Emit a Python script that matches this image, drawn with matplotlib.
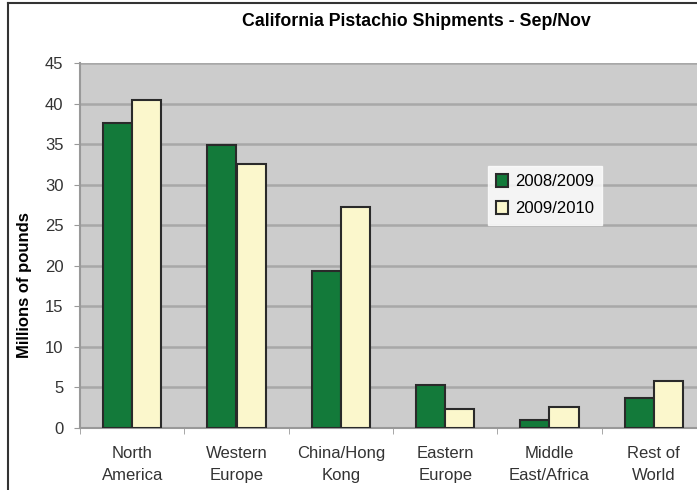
import numpy as np
import matplotlib
matplotlib.use("Agg")
import matplotlib.pyplot as plt
from matplotlib.lines import Line2D

plt.rcParams['font.family'] = ['Liberation Sans', 'DejaVu Sans']

regions = ['North\nAmerica', 'Western\nEurope', 'China/Hong\nKong', 'Eastern\nEurope',
           'Middle\nEast/Africa', 'Rest of\nWorld']
ship_0809 = [37.6, 34.9, 19.3, 5.3, 1.0, 3.7]
ship_0910 = [40.4, 32.6, 27.3, 2.3, 2.6, 5.8]
yticks = [0, 5, 10, 15, 20, 25, 30, 35, 40, 45]

fig = plt.figure(figsize=(6.97, 4.90), dpi=100)
ax = fig.add_axes([80/697, 62/490, 626/697, 365/490])

x = np.arange(len(regions))
w = 0.28
ax.bar(x - w/2, ship_0809, w, color='#137a3a', edgecolor='#2a2a2a', linewidth=1.5,
       label='2008/2009', zorder=3)
ax.bar(x + w/2, ship_0910, w, color='#fbf7cc', edgecolor='#2a2a2a', linewidth=1.5,
       label='2009/2010', zorder=3)

ax.set_facecolor('#cccccc')
ax.set_xlim(-0.5, 5.5)
ax.set_ylim(0, 45)
ax.set_yticks(yticks)
ax.yaxis.grid(True, color='#a8a8a8', linewidth=1.8, zorder=0)
ax.set_axisbelow(True)
ax.set_xticks(np.arange(len(regions) + 1) - 0.5, minor=True)
ax.set_xticks(x)
ax.set_xticklabels(regions, fontsize=12, color='#333333', linespacing=1.55)
ax.tick_params(axis='x', which='major', length=0, pad=13)
ax.tick_params(axis='x', which='minor', length=4, color='#999999')
ax.tick_params(axis='y', length=4, color='#999999', labelsize=12, labelcolor='#333333', pad=8)
for s in ['top', 'right']:
    ax.spines[s].set_visible(False)
ax.spines['left'].set_color('#999999')
ax.spines['bottom'].set_color('#999999')
ax.spines['left'].set_linewidth(1.5)
ax.spines['bottom'].set_linewidth(1.5)

fig.text(25/697, 1 - 285/490, 'Millions of pounds', rotation=90, ha='center', va='center',
         fontsize=12, fontweight='bold')

leg = ax.legend(loc='upper left', bbox_to_anchor=(0.652, 0.718), fontsize=12,
                frameon=True, fancybox=False, edgecolor='white', borderaxespad=0,
                handlelength=0.7, handleheight=0.8, handletextpad=0.4,
                labelspacing=0.7, borderpad=0.5)
leg.get_frame().set_facecolor('white')

fig.text(416/697, 0.957, 'California Pistachio Shipments - Sep/Nov', ha='center', va='center',
         fontsize=12.8, fontweight='bold')

# outer frame (top and left)
fig.add_artist(Line2D([8/697, 1], [1 - 3/490, 1 - 3/490], color='#333333', linewidth=1.5))
fig.add_artist(Line2D([8/697, 8/697], [0, 1 - 3/490], color='#333333', linewidth=1.5))

fig.savefig('out.png', dpi=100)
